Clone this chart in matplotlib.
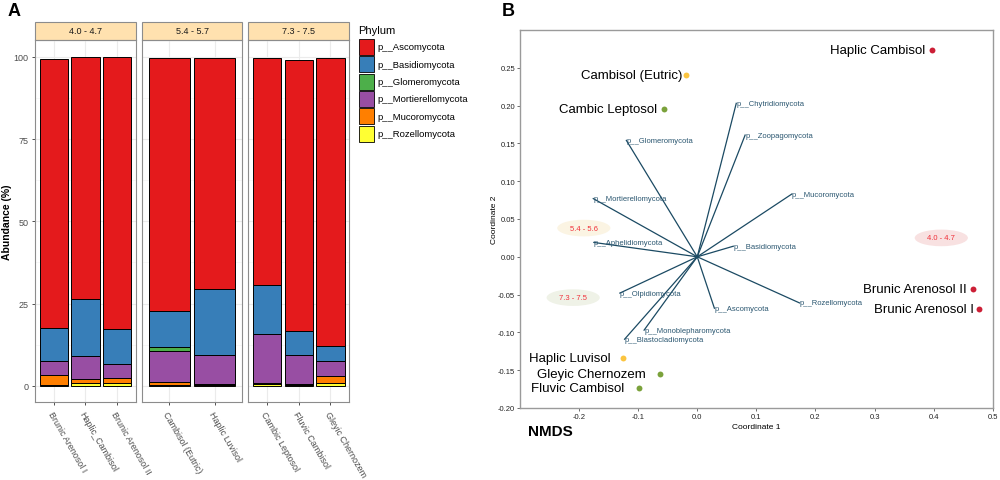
#!/usr/bin/env python3
"""Fungal phylum abundance by soil (A) and NMDS ordination with phylum vectors (B)."""
import matplotlib

matplotlib.use("Agg")
import matplotlib.pyplot as plt
import numpy as np
from matplotlib.patches import Ellipse, Rectangle

plt.rcParams["font.family"] = ["Liberation Sans", "DejaVu Sans"]

# ---- panel A data -------------------------------------------------------
ph_groups = ["4.0 - 4.7", "5.4 - 5.7", "7.3 - 7.5"]
group_soils = [
    ["Brunic Arenosol I", "Haplic_Cambisol", "Brunic Arenosol II"],
    ["Cambisol (Eutric)", "Haplic Luvisol"],
    ["Cambic Leptosol", "Fluvic Cambisol", "Gleyic Chernozem"],
]
phyla = ["p__Ascomycota", "p__Basidiomycota", "p__Glomeromycota",
         "p__Mortierellomycota", "p__Mucoromycota", "p__Rozellomycota"]
phylum_colors = ["#E41A1C", "#377EB8", "#4DAF4A", "#984EA3", "#FF7F00", "#FFFF33"]
# abundance (%) per soil, same order as group_soils flattened
ascomycota = [81.7, 73.4, 82.6, 76.8, 70.1, 69.0, 82.3, 87.7]
basidiomycota = [10.2, 17.5, 10.7, 11.1, 20.0, 14.7, 7.2, 4.4]
glomeromycota = [0.0, 0.0, 0.0, 1.0, 0.0, 0.0, 0.0, 0.0]
mortierellomycota = [4.1, 6.8, 4.3, 9.6, 8.8, 14.8, 8.8, 4.7]
mucoromycota = [3.1, 1.4, 1.5, 0.9, 0.3, 0.4, 0.3, 2.0]
rozellomycota = [0.3, 0.8, 0.9, 0.2, 0.3, 0.6, 0.4, 0.9]

# ---- panel B data -------------------------------------------------------
samples = ["Haplic Cambisol", "Cambisol (Eutric)", "Cambic Leptosol",
           "Brunic Arenosol II", "Brunic Arenosol I", "Haplic Luvisol",
           "Gleyic Chernozem", "Fluvic Cambisol"]
sample_x = [0.398, -0.019, -0.056, 0.467, 0.476, -0.125, -0.063, -0.098]
sample_y = [0.273, 0.241, 0.196, -0.042, -0.069, -0.134, -0.155, -0.174]
sample_group = ["4.0 - 4.7", "5.4 - 5.6", "7.3 - 7.5", "4.0 - 4.7", "4.0 - 4.7",
                "5.4 - 5.6", "7.3 - 7.5", "7.3 - 7.5"]
vec_names = ["p__Chytridiomycota", "p__Zoopagomycota", "p__Glomeromycota",
             "p__Mortierellomycota", "p__Mucoromycota", "p__Aphelidiomycota",
             "p__Basidiomycota", "p__Olpidiomycota", "p__Rozellomycota",
             "p__Ascomycota", "p__Monoblepharomycota", "p__Blastocladiomycota"]
vec_x = [0.066, 0.081, -0.120, -0.176, 0.160, -0.175, 0.061, -0.131, 0.173, 0.029, -0.090, -0.123]
vec_y = [0.203, 0.161, 0.154, 0.077, 0.083, 0.019, 0.014, -0.048, -0.061, -0.068, -0.097, -0.109]
cluster_names = ["5.4 - 5.6", "7.3 - 7.5", "4.0 - 4.7"]
cluster_x = [-0.192, -0.210, 0.413]
cluster_y = [0.038, -0.054, 0.025]

# styling
group_colors = {"4.0 - 4.7": "#CC1F36", "5.4 - 5.6": "#FBC43F", "7.3 - 7.5": "#7BA23B"}
cluster_fill = {"5.4 - 5.6": "#FBF4E3", "7.3 - 7.5": "#EFF2E7", "4.0 - 4.7": "#F8E1E1"}
label_gap = [7, 4, 7, 6, 5, 13, 14, 15]  # px between label end and point
VEC = "#1B4A63"

W, H = 1000, 481
fig = plt.figure(figsize=(W / 100, H / 100), dpi=100)


def fig_rect(x0, y0, x1, y1):
    return [x0 / W, 1 - y1 / H, (x1 - x0) / W, (y1 - y0) / H]


# ---- panel A ------------------------------------------------------------
stack = np.array([ascomycota, basidiomycota, glomeromycota,
                  mortierellomycota, mucoromycota, rozellomycota])
facet_px = [(35, 135.7), (141.7, 242.3), (248.3, 349.3)]
top_px, bot_px, strip_top = 41.3, 403.3, 22.7
col = 0
for gi, (grp, soils) in enumerate(zip(ph_groups, group_soils)):
    ax = fig.add_axes(fig_rect(facet_px[gi][0], top_px, facet_px[gi][1], bot_px))
    n = len(soils)
    xs = np.arange(n)
    vals = stack[:, col:col + n]
    col += n
    bottom = np.zeros(n)
    for k in range(len(phyla) - 1, -1, -1):
        ax.bar(xs, vals[k], 0.9, bottom=bottom, color=phylum_colors[k],
               edgecolor="black", linewidth=0.7, zorder=3)
        bottom += vals[k]
    ax.set_xlim(-0.6, n - 0.4)
    ax.set_ylim(-5, 105)
    ax.set_yticks([0, 25, 50, 75, 100])
    ax.set_yticks([12.5, 37.5, 62.5, 87.5], minor=True)
    ax.grid(True, which="major", color="#EBEBEB", linewidth=0.8, zorder=0)
    ax.grid(True, which="minor", axis="y", color="#F4F4F4", linewidth=0.5, zorder=0)
    ax.set_xticks(xs)
    ax.set_xticklabels(soils, rotation=-60, ha="left", va="top",
                       rotation_mode="anchor", fontsize=6.5, color="#4D4D4D")
    ax.tick_params(axis="x", length=2.5, width=0.6, color="#333333", pad=3)
    ax.tick_params(axis="y", which="minor", length=0)
    if gi == 0:
        ax.tick_params(axis="y", length=2.5, width=0.6, color="#333333",
                       labelsize=6.5, labelcolor="#4D4D4D", pad=2)
        ax.set_ylabel("Abundance (%)", fontsize=7.5, fontweight="bold", labelpad=1)
    else:
        ax.tick_params(axis="y", length=0, labelleft=False)
    for s in ax.spines.values():
        s.set_color("#8C8C8C")
        s.set_linewidth(0.8)
    strip_h = (top_px - strip_top) / (bot_px - top_px)
    ax.add_patch(Rectangle((0, 1), 1, strip_h, transform=ax.transAxes,
                           facecolor="#FFE1AF", edgecolor="#8C8C8C",
                           linewidth=0.8, clip_on=False))
    ax.text(0.5, 1 + strip_h / 2, grp, transform=ax.transAxes, ha="center",
            va="center", fontsize=6.5, color="#1A1A1A")

# legend for panel A
fig.text(358 / W, 1 - 30.7 / H, "Phylum", fontsize=8, va="center", ha="left")
for k, (name, c) in enumerate(zip(phyla, phylum_colors)):
    y0 = 40 + k * 17.3
    fig.patches.append(Rectangle((359 / W, 1 - (y0 + 16) / H), 15 / W, 16 / H,
                                 transform=fig.transFigure, facecolor=c,
                                 edgecolor="black", linewidth=0.6))
    fig.text(377.5 / W, 1 - (y0 + 8) / H, name, fontsize=6.8, va="center", ha="left")

fig.text(8 / W, 1 - 11 / H, "A", fontsize=13, fontweight="bold", va="center")
fig.text(502 / W, 1 - 11 / H, "B", fontsize=13, fontweight="bold", va="center")

# ---- panel B ------------------------------------------------------------
bx = fig.add_axes(fig_rect(520, 31, 992.7, 409))
bx.set_xlim(-0.3, 0.5)
bx.set_ylim(-0.2, 0.3)
for name, cx, cy in zip(cluster_names, cluster_x, cluster_y):
    bx.add_patch(Ellipse((cx, cy), 0.09, 0.022, facecolor=cluster_fill[name],
                         edgecolor="none", zorder=1))
    bx.text(cx, cy, name, ha="center", va="center", fontsize=5.5,
            color="#F0313A", zorder=2)
for name, vx, vy in zip(vec_names, vec_x, vec_y):
    bx.plot([0, vx], [0, vy], color=VEC, linewidth=0.9, zorder=3)
    bx.text(vx, vy, name, ha="left", va="center", fontsize=5.5,
            color="#2A5670", zorder=4)
for name, sx, sy, g, gap in zip(samples, sample_x, sample_y, sample_group, label_gap):
    bx.scatter([sx], [sy], s=18, color=group_colors[g], zorder=5, linewidths=0)
    bx.annotate(name, (sx, sy), xytext=(-gap * 0.72, 0), textcoords="offset points",
                ha="right", va="center", fontsize=9.5, color="black", zorder=5)
bx.set_xticks([-0.2, -0.1, 0.0, 0.1, 0.2, 0.3, 0.4, 0.5])
bx.set_xticklabels(["-0.2", "-0.1", "0.0", "0.1", "0.2", "0.3", "0.4", "0.5"])
bx.set_yticks([-0.2, -0.15, -0.1, -0.05, 0.0, 0.05, 0.1, 0.15, 0.2, 0.25])
bx.set_yticklabels(["-0.20", "-0.15", "-0.10", "-0.05", "0.00", "0.05",
                    "0.10", "0.15", "0.20", "0.25"])
bx.tick_params(length=2, width=0.6, labelsize=5.5, color="#555555",
               labelcolor="#222222", pad=1.5)
bx.set_xlabel("Coordinate 1", fontsize=6, labelpad=2)
bx.set_ylabel("Coordinate 2", fontsize=6, labelpad=0)
for s in bx.spines.values():
    s.set_color("#9A9A9A")
    s.set_linewidth(1.0)
fig.text(528 / W, 1 - 432 / H, "NMDS", fontsize=11, fontweight="bold", va="center")

fig.savefig("out.png", dpi=100)
